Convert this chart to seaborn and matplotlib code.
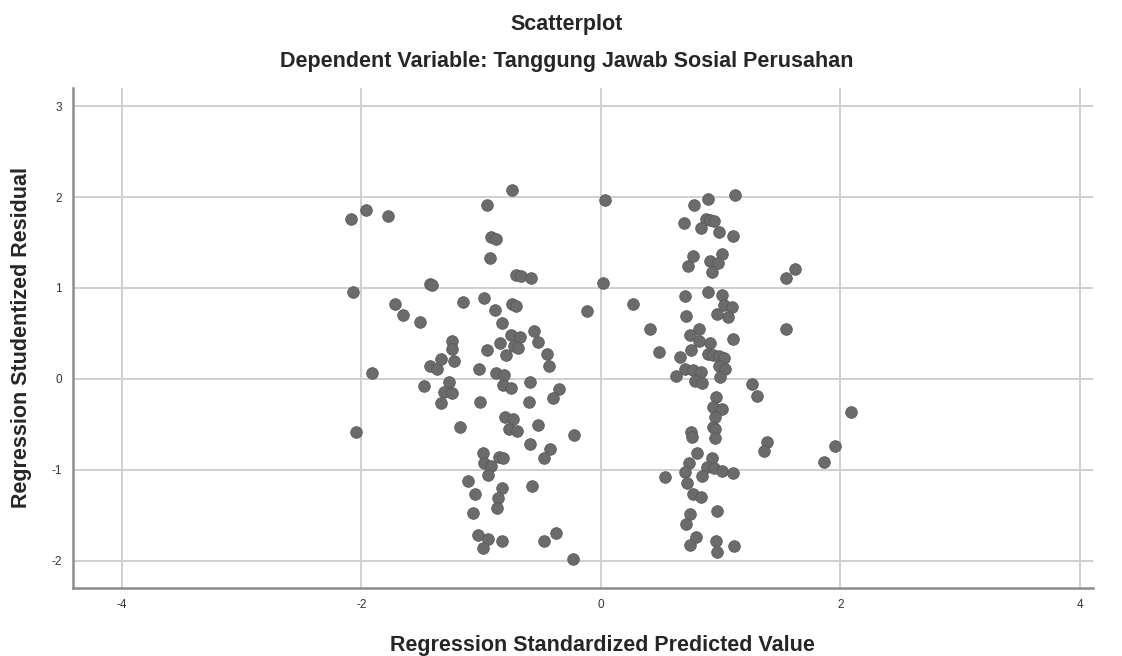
import matplotlib
matplotlib.use("Agg")
import matplotlib.pyplot as plt
import seaborn as sns
import pandas as pd

# Predicted values (standardized) and studentized residuals
pred = [
    -0.739, 0.036, -0.954, -1.958, -2.084, -1.782, -0.920, -0.873, -0.923, -0.711,
    -0.669, -0.580, -1.423, -1.409, 0.022, -2.070, -1.721, -1.155, -0.973, -0.739,
    -0.709, -0.881, -0.114, -1.649, -1.512, -0.826, -0.555, -0.753, -0.675, -0.527,
    -1.241, -0.842, -1.241, -0.725, -0.689, -0.951, -0.792, -0.446, -1.339, -1.428,
    -1.367, -1.225, -0.432, -1.908, -1.018, -0.876, -0.809,
    -1.478, -1.266, -1.311, -1.241, -1.336, -1.010, -0.817, -0.753, -0.591, -0.602,
    -0.351, -0.396, -2.042, -1.180, -0.798, -0.734, -0.767, -0.698, -0.524, -0.223,
    -0.594, -0.421, -0.471, -0.985, -0.851, -0.817, -0.976, -0.915, -0.946, -1.107,
    -1.049, -0.826, -0.859, -0.870, -0.575, -1.071, -1.024, -0.946, -0.982, -0.826,
    -0.474, -0.377, -0.229,
    1.124, 0.895, 0.781, 0.876, 0.912, 0.946, 0.695, 0.837, 0.985, 1.102,
    1.013, 0.770, 0.728, 0.912, 0.982, 0.926, 1.626, 1.551, 0.898, 0.700,
    1.015, 0.265, 1.032, 1.099, 0.709, 0.971, 1.066, 0.413, 1.543, 0.817,
    0.742, 0.820, 0.912, 1.102, 0.756, 0.483, 0.658, 0.898, 0.940, 0.987,
    1.032, 0.700, 0.767, 0.837, 0.987, 1.040, 0.625, 0.999, 0.787, 0.848,
    1.264,
    1.305, 0.965, 0.940, 1.015, 0.951, 0.940, 0.957, 0.951, 0.753, 0.759,
    2.089, 1.955, 1.866, 1.389, 1.364, 0.801, 0.932, 0.739, 0.887, 0.948,
    1.013, 1.102, 0.703, 0.848, 0.533, 0.717, 0.767, 0.837, 0.974, 0.742,
    0.709, 0.798, 0.960, 0.748, 1.110, 0.968,
]
resid = [
    2.073, 1.970, 1.916, 1.861, 1.763, 1.792, 1.562, 1.540, 1.332, 1.146,
    1.131, 1.106, 1.044, 1.033, 1.058, 0.956, 0.825, 0.850, 0.894, 0.818,
    0.803, 0.759, 0.745, 0.697, 0.628, 0.613, 0.526, 0.482, 0.456, 0.405,
    0.420, 0.398, 0.332, 0.358, 0.339, 0.318, 0.266, 0.270, 0.219, 0.146,
    0.109, 0.193, 0.146, 0.062, 0.109, 0.069, 0.047,
    -0.080, -0.033, -0.146, -0.161, -0.263, -0.255, -0.069, -0.099, -0.033, -0.252,
    -0.109, -0.215, -0.584, -0.526, -0.420, -0.445, -0.547, -0.569, -0.511, -0.617,
    -0.715, -0.774, -0.872, -0.818, -0.858, -0.865, -0.927, -0.956, -1.058, -1.128,
    -1.263, -1.201, -1.310, -1.416, -1.175, -1.478, -1.712, -1.759, -1.865, -1.788,
    -1.785, -1.697, -1.978,
    2.026, 1.982, 1.909, 1.763, 1.752, 1.737, 1.719, 1.661, 1.613, 1.573,
    1.376, 1.347, 1.241, 1.299, 1.270, 1.175, 1.204, 1.106, 0.960, 0.916,
    0.920, 0.825, 0.810, 0.785, 0.686, 0.708, 0.679, 0.547, 0.551, 0.551,
    0.478, 0.420, 0.391, 0.438, 0.321, 0.299, 0.241, 0.277, 0.266, 0.248,
    0.230, 0.113, 0.095, 0.077, 0.139, 0.113, 0.026, 0.015, -0.026, -0.044,
    -0.062,
    -0.193, -0.197, -0.307, -0.332, -0.423, -0.529, -0.547, -0.653, -0.580, -0.639,
    -0.369, -0.741, -0.912, -0.693, -0.792, -0.821, -0.869, -0.923, -0.964, -0.985,
    -1.011, -1.036, -1.029, -1.066, -1.077, -1.150, -1.270, -1.296, -1.453, -1.489,
    -1.599, -1.734, -1.785, -1.832, -1.839, -1.905,
]

df = pd.DataFrame({"pred": pred, "resid": resid})

sns.set_style("white")
plt.rcParams["font.family"] = ["Liberation Sans", "DejaVu Sans"]
plt.rcParams["axes.unicode_minus"] = False

fig = plt.figure(figsize=(11.22, 6.56), dpi=100)
ax = fig.add_axes([0.065, 0.1037, 0.909, 0.7623])

sns.scatterplot(data=df, x="pred", y="resid", ax=ax, s=70,
                color="#6b6b6b", edgecolor="#5a5a5a", linewidth=0.6, zorder=3)

ax.set_xlim(-4.41, 4.11)
ax.set_ylim(-2.30, 3.20)
ax.set_xticks([-4, -2, 0, 2, 4])
ax.set_yticks([-2, -1, 0, 1, 2, 3])
ax.grid(True, color="#cfcfcf", linewidth=1.4, zorder=0)
ax.set_axisbelow(True)

for side in ["top", "right"]:
    ax.spines[side].set_visible(False)
for side in ["left", "bottom"]:
    ax.spines[side].set_color("#8c8c8c")
    ax.spines[side].set_linewidth(1.8)

ax.tick_params(axis="both", length=0, labelsize=8.5, labelcolor="#333333", pad=8)

ax.set_xlabel("")
ax.set_ylabel("Regression Studentized Residual", fontsize=15.5, fontweight="bold")
ax.yaxis.set_label_coords(-0.040, 0.5)

fig.text(0.5365, 0.016, "Regression Standardized Predicted Value", ha="center",
         va="center", fontsize=15.5, fontweight="bold")
fig.text(0.505, 0.962, "Scatterplot", ha="center", va="center",
         fontsize=15.5, fontweight="bold")
fig.text(0.505, 0.906, "Dependent Variable: Tanggung Jawab Sosial Perusahan",
         ha="center", va="center", fontsize=15.5, fontweight="bold")

fig.savefig("out.png", dpi=100)
